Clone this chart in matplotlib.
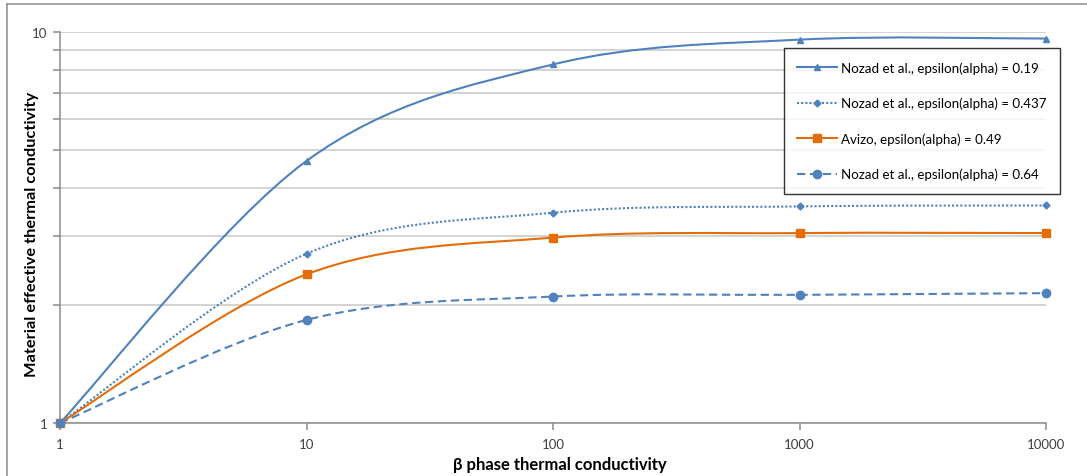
import numpy as np
import matplotlib
matplotlib.use('Agg')
import matplotlib.pyplot as plt
from matplotlib.path import Path
from matplotlib.patches import PathPatch
from matplotlib.lines import Line2D

plt.rcParams['font.family'] = ['Lato', 'DejaVu Sans']

# data
k_beta = [1, 10, 100, 1000, 10000]
nozad_019 = [1, 4.68, 8.26, 9.56, 9.62]
nozad_0437 = [1, 2.71, 3.45, 3.58, 3.60]
avizo_049 = [1, 2.40, 2.98, 3.06, 3.06]
nozad_064 = [1, 1.835, 2.106, 2.127, 2.148]

labels = ['Nozad et al., epsilon(alpha) = 0.19',
          'Nozad et al., epsilon(alpha) = 0.437',
          'Avizo, epsilon(alpha) = 0.49',
          'Nozad et al., epsilon(alpha) = 0.64']

blue = '#4F81BD'
orange = '#E46C0A'


def smooth_path(xs, ys):
    # Excel-style smoothed line: cubic Bezier (Catmull-Rom) in log-log space
    P = np.column_stack([np.log10(xs), np.log10(ys)])
    n = len(P)
    verts = [P[0]]
    for i in range(n - 1):
        p0 = P[i - 1] if i > 0 else P[i]
        p3 = P[i + 2] if i + 2 < n else P[i + 1]
        c1 = P[i] + (P[i + 1] - p0) / 6
        c2 = P[i + 1] - (p3 - P[i]) / 6
        verts += [c1, c2, P[i + 1]]
    verts = 10 ** np.array(verts)
    codes = [Path.MOVETO] + [Path.CURVE4] * 3 * (n - 1)
    return Path(verts, codes)


fig = plt.figure(figsize=(10.87, 4.77), dpi=100)
ax = fig.add_axes([60 / 1087, 1 - 424 / 477, (1046 - 60) / 1087, (424 - 33) / 477])
ax.set_xscale('log')
ax.set_yscale('log')
ax.set_xlim(1, 10000)
ax.set_ylim(1, 10)

series = [
    (nozad_019, blue, '-', '^', 5, labels[0]),
    (nozad_0437, blue, (0, (1, 1)), 'D', 3.5, labels[1]),
    (avizo_049, orange, '-', 's', 5.5, labels[2]),
    (nozad_064, blue, (0, (4, 2.2)), 'o', 6, labels[3]),
]

handles = []
for ys, c, ls, m, ms, lab in series:
    patch = PathPatch(smooth_path(k_beta, ys), fill=False, edgecolor=c,
                      linewidth=1.5, linestyle=ls, transform=ax.transData,
                      zorder=3, capstyle='butt')
    ax.add_patch(patch)
    ax.plot(k_beta, ys, linestyle='none', marker=m, markersize=ms,
            color=c, zorder=4, clip_on=False)
    handles.append(Line2D([], [], color=c, linestyle=ls, linewidth=1.5,
                          marker=m, markersize=ms))

# grid and axes styling
ax.set_yticks([1, 10])
ax.set_yticklabels(['1', '10'])
ax.set_yticks([2, 3, 4, 5, 6, 7, 8, 9], minor=True)
ax.set_yticklabels([], minor=True)
ax.set_xticks(k_beta)
ax.set_xticklabels(['1', '10', '100', '1000', '10000'])
ax.xaxis.set_minor_locator(matplotlib.ticker.NullLocator())
ax.yaxis.grid(True, which='both', color='#C8C8C8', linewidth=1.1)
ax.set_axisbelow(True)
for s in ['top', 'right']:
    ax.spines[s].set_visible(False)
for s in ['left', 'bottom']:
    ax.spines[s].set_color('#8C8C8C')
    ax.spines[s].set_linewidth(1.1)
ax.tick_params(axis='both', which='both', color='#8C8C8C', length=5,
               width=1.1, labelsize=9.5, labelcolor='#404040')
ax.tick_params(axis='y', pad=4)
ax.tick_params(axis='x', pad=6)

fig.text(560 / 1087, 1 - 465 / 477, 'β phase thermal conductivity',
         fontsize=12, fontweight='bold', ha='center', va='center')
fig.text(32 / 1087, 1 - 234 / 477, 'Material effective thermal conductivity',
         fontsize=11.8, fontweight='bold', ha='center', va='center',
         rotation=90)

leg = fig.legend(handles, labels, loc='upper left',
                 bbox_to_anchor=(784 / 1087, 1 - 49 / 477),
                 fontsize=9.6, frameon=True, fancybox=False,
                 edgecolor='black', handlelength=3.0, handletextpad=0.3,
                 labelspacing=1.72, borderpad=1.0, borderaxespad=0)
leg.get_frame().set_linewidth(1.0)

# outer chart border (left and top visible)
fig.add_artist(Line2D([7 / 1087, 7 / 1087], [0, 1 - 5 / 477],
                      color='#8C8C8C', linewidth=1.1))
fig.add_artist(Line2D([7 / 1087, 1], [1 - 5 / 477, 1 - 5 / 477],
                      color='#8C8C8C', linewidth=1.1))

fig.savefig('out.png', dpi=100)
